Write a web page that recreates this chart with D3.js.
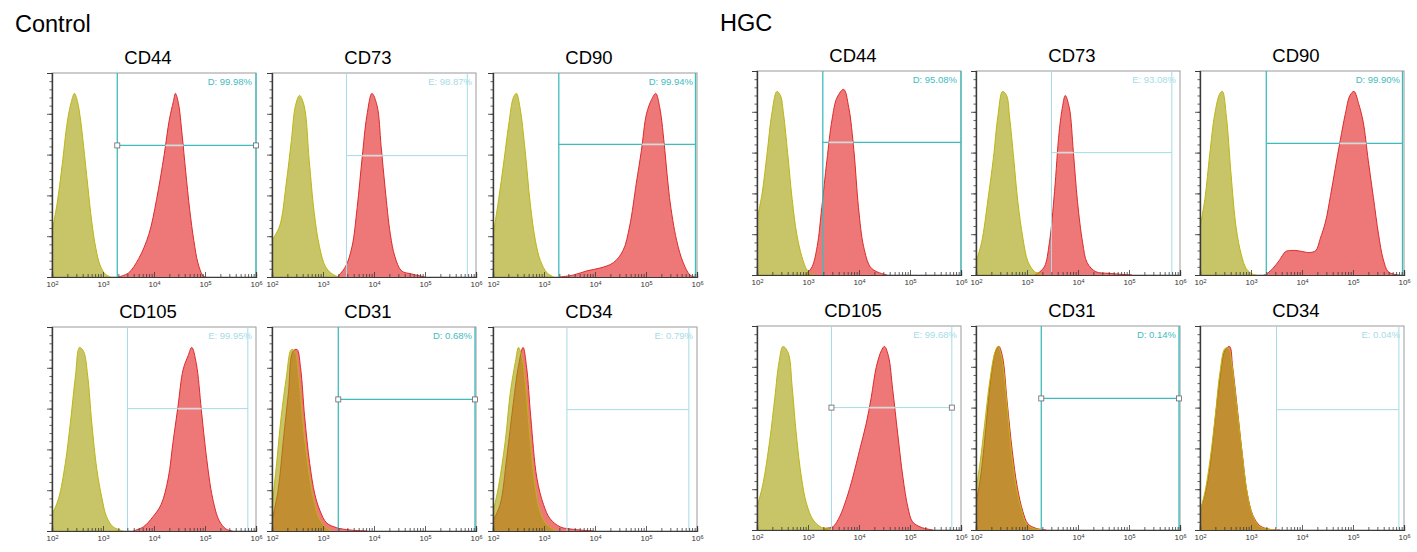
<!DOCTYPE html>
<html><head><meta charset="utf-8">
<script src="https://cdn.jsdelivr.net/npm/d3@7"></script>
<style>
body{margin:0;background:#fff;}
svg{display:block;font-family:Arial,"Liberation Sans",sans-serif;}
</style></head><body>
<svg id="chart" width="1417" height="552"></svg>
<script>
// ---------------- DATA ----------------
const groups = ["Control", "HGC"];
const markers = ["CD44", "CD73", "CD90", "CD105", "CD31", "CD34"];
const xTickExponents = ["2", "3", "4", "5", "6"];

// histogram outlines: [log10 fluorescence, % of panel height]
const ctrlCD44Iso = [[2.0,22],[2.1,36],[2.2,55],[2.3,76],[2.38,86],[2.44,90],[2.5,86],[2.56,77],[2.62,64],[2.7,45],[2.78,27],[2.86,14],[2.94,6],[3.04,1.5],[3.15,0]];
const ctrlCD44Stain = [[3.3,0],[3.5,2],[3.7,9],[3.9,21],[4.05,38],[4.2,60],[4.3,77],[4.38,86],[4.42,90],[4.48,85],[4.55,70],[4.62,52],[4.7,33],[4.78,18],[4.86,7],[4.95,1],[5.0,0]];
const ctrlCD73Iso = [[2.0,18],[2.15,25],[2.28,46],[2.38,67],[2.46,84],[2.54,89],[2.63,84],[2.73,57],[2.83,31],[2.93,15],[3.05,5],[3.18,1.5],[3.31,0]];
const ctrlCD73Stain = [[3.28,0],[3.44,5],[3.57,15],[3.67,34],[3.77,59],[3.86,79],[3.96,90],[4.06,84],[4.14,64],[4.22,43],[4.32,21],[4.41,10],[4.54,3],[4.74,1.5],[5.0,0]];
const ctrlCD90Iso = [[2.0,20],[2.11,38],[2.21,56],[2.31,75],[2.4,88],[2.46,90],[2.53,83],[2.63,62],[2.73,36],[2.83,18],[2.93,8],[3.06,2],[3.19,0]];
const ctrlCD90Stain = [[3.32,0],[3.58,1],[3.84,3],[4.1,4.4],[4.36,7],[4.55,13],[4.68,25],[4.81,46],[4.91,62],[5.01,80],[5.11,87],[5.19,90],[5.27,83],[5.37,62],[5.46,39],[5.6,18],[5.73,7],[5.86,1],[5.95,0]];
const ctrlCD105Iso = [[2.0,8],[2.13,16],[2.26,33],[2.36,53],[2.46,76],[2.54,90],[2.62,88],[2.7,76],[2.78,53],[2.88,30],[2.98,16],[3.07,7],[3.2,2],[3.4,0]];
const ctrlCD105Stain = [[3.59,0],[3.79,2],[3.98,7],[4.14,13],[4.28,26],[4.37,43],[4.47,61],[4.57,79],[4.67,86],[4.74,90],[4.83,82],[4.93,59],[5.02,38],[5.15,16],[5.28,5],[5.41,1],[5.54,0]];
const ctrlCD31Iso = [[2.0,11],[2.09,33],[2.18,56],[2.28,75],[2.38,89],[2.45,88],[2.51,79],[2.61,52],[2.71,31],[2.81,16],[2.91,7],[3.04,2],[3.17,0]];
const ctrlCD31Stain = [[2.0,5],[2.12,20],[2.22,44],[2.32,67],[2.41,88],[2.49,89],[2.56,80],[2.64,56],[2.74,33],[2.84,18],[2.94,10],[3.07,4],[3.27,1.6],[3.53,0.5],[3.86,0]];
const ctrlCD34Iso = [[2.0,9],[2.11,22],[2.24,44],[2.34,68],[2.44,83],[2.5,90],[2.57,85],[2.65,68],[2.73,44],[2.83,21],[2.93,9],[3.06,3],[3.25,0]];
const ctrlCD34Stain = [[2.0,5],[2.14,13],[2.27,36],[2.4,63],[2.5,81],[2.59,90],[2.66,80],[2.74,56],[2.86,26],[2.99,13],[3.12,6],[3.32,2],[3.58,0.8],[3.97,0]];
const hgcCD44Iso = [[2.0,27],[2.1,40],[2.2,60],[2.29,79],[2.39,90],[2.46,88],[2.52,79],[2.6,60],[2.69,37],[2.78,20],[2.88,9],[2.98,2.4],[3.05,0.8],[3.12,0]];
const hgcCD44Stain = [[2.95,0],[2.98,0.8],[3.08,4],[3.18,14],[3.27,33],[3.37,56],[3.47,76],[3.57,87],[3.7,91],[3.8,82],[3.9,61],[3.99,33],[4.09,14],[4.22,4],[4.35,1.6],[4.55,0]];
const hgcCD73Iso = [[2.0,6.5],[2.11,16],[2.24,38],[2.34,57],[2.43,78],[2.52,90],[2.6,88],[2.66,77],[2.74,57],[2.82,36],[2.92,18],[3.02,6.5],[3.15,1.6],[3.24,0.8],[3.3,0]];
const hgcCD73Stain = [[3.15,0],[3.21,0.8],[3.34,4],[3.44,16],[3.54,41],[3.63,70],[3.7,83],[3.75,88],[3.83,82],[3.91,60],[3.99,36],[4.09,16],[4.18,6],[4.35,1.6],[4.61,0.8],[5.06,0]];
const hgcCD90Iso = [[2.0,23],[2.1,38],[2.19,59],[2.29,79],[2.39,89],[2.44,90],[2.52,77],[2.61,49],[2.71,23],[2.81,10],[2.91,3],[3.04,0.3],[3.1,0]];
const hgcCD90Stain = [[3.25,0],[3.29,0.3],[3.42,3],[3.55,7],[3.68,11.5],[3.78,12],[3.88,12],[4.01,11.5],[4.14,11],[4.27,12],[4.36,18],[4.46,26],[4.56,39],[4.65,52],[4.75,66],[4.85,79],[4.94,88],[5.02,90],[5.11,84],[5.2,75],[5.3,56],[5.4,38],[5.5,20],[5.59,8],[5.69,1.6],[5.82,0.3],[5.9,0]];
const hgcCD105Iso = [[2.0,11],[2.12,23],[2.25,44],[2.35,65],[2.43,82],[2.51,90],[2.61,87],[2.69,70],[2.77,47],[2.87,26],[2.97,13],[3.1,5],[3.26,1.3],[3.39,0.8],[3.45,0]];
const hgcCD105Stain = [[3.3,0],[3.36,0.8],[3.49,1.6],[3.62,6.5],[3.75,15],[3.88,26],[4.01,39],[4.14,52],[4.24,65],[4.34,80],[4.44,88],[4.5,90],[4.58,85],[4.66,69],[4.76,47],[4.86,26],[4.96,11],[5.05,4],[5.22,1.3],[5.45,0]];
const hgcCD31Iso = [[2.0,20],[2.08,33],[2.17,52],[2.27,73],[2.37,87],[2.43,90],[2.5,85],[2.6,63],[2.69,39],[2.79,21],[2.89,10],[2.99,3],[3.12,0.8],[3.31,0]];
const hgcCD31Stain = [[2.0,13],[2.09,26],[2.19,49],[2.28,72],[2.39,88],[2.45,90],[2.52,85],[2.61,63],[2.71,39],[2.81,21],[2.92,9],[3.02,3],[3.18,0.8],[3.38,0]];
const hgcCD34Iso = [[2.0,9],[2.1,19],[2.2,35],[2.3,56],[2.39,77],[2.49,89],[2.56,89],[2.62,82],[2.72,61],[2.82,39],[2.92,19],[3.02,8],[3.15,2],[3.31,0.5],[3.51,0]];
const hgcCD34Stain = [[2.0,9.4],[2.1,17.5],[2.2,32],[2.3,55],[2.39,74],[2.49,88],[2.58,90],[2.64,80],[2.73,60],[2.83,37],[2.93,17.5],[3.04,7],[3.18,2],[3.38,0.3],[3.57,0]];

// gates (marker order as in `markers`)
const ctrlGateLabels = ["D: 99.98%", "E: 98.87%", "D: 99.94%", "E: 99.95%", "D: 0.68%", "E: 0.79%"];
const hgcGateLabels  = ["D: 95.08%", "E: 93.08%", "D: 99.90%", "E: 99.68%", "D: 0.14%", "E: 0.04%"];
const ctrlGateStart = [3.28, 3.46, 3.29, 3.48, 3.30, 3.45];
const ctrlGateEnd   = [6.0, 5.83, 5.97, 5.84, 5.98, 5.84];
const ctrlGateLevel = [64.5, 59.5, 65, 60, 64.5, 59.5];
const hgcGateStart  = [3.29, 3.48, 3.30, 3.46, 3.28, 3.50];
const hgcGateEnd    = [6.0, 5.84, 5.97, 5.82, 5.98, 5.90];
const hgcGateLevel  = [65, 60, 64.5, 60, 64.5, 59];
const ctrlGateHandles = [true, false, false, false, true, false];
const hgcGateHandles  = [false, false, false, true, true, false];

const isoSeries = {Control:[ctrlCD44Iso,ctrlCD73Iso,ctrlCD90Iso,ctrlCD105Iso,ctrlCD31Iso,ctrlCD34Iso],
                   HGC:[hgcCD44Iso,hgcCD73Iso,hgcCD90Iso,hgcCD105Iso,hgcCD31Iso,hgcCD34Iso]};
const stainSeries = {Control:[ctrlCD44Stain,ctrlCD73Stain,ctrlCD90Stain,ctrlCD105Stain,ctrlCD31Stain,ctrlCD34Stain],
                     HGC:[hgcCD44Stain,hgcCD73Stain,hgcCD90Stain,hgcCD105Stain,hgcCD31Stain,hgcCD34Stain]};
const gateInfo = {
  Control:{labels:ctrlGateLabels,start:ctrlGateStart,end:ctrlGateEnd,level:ctrlGateLevel,handles:ctrlGateHandles},
  HGC:{labels:hgcGateLabels,start:hgcGateStart,end:hgcGateEnd,level:hgcGateLevel,handles:hgcGateHandles}
};

// ---------------- LAYOUT ----------------
const svg = d3.select("#chart");
const PW = 204, PH = 204;
const layout = {
  Control:{title:[15,32], cols:[52,272,493], rows:[73,327]},
  HGC:{title:[720,31], cols:[757,976,1200], rows:[71,326]}
};
const C = {
  isoFill:"rgb(163,157,3)", isoOpacity:0.6, isoStroke:"#bdb613",
  stainFill:"#ee7878", stainStroke:"#dc2a2a",
  gateD:"#3fbcbe", gateE:"#a6dbe7", axis:"#3a3a3a", frame:"#9a9a9a"
};

const minorTicks = [];
for (let e = 2; e < 6; e++) for (let m = 2; m <= 9; m++) minorTicks.push(m * Math.pow(10, e));
const majorTicks = xTickExponents.map(e => Math.pow(10, +e));

let clipId = 0;
groups.forEach(g => {
  const L = layout[g];
  svg.append("text").attr("x", L.title[0]).attr("y", L.title[1])
    .attr("font-size", 23.5).attr("fill", "#000").text(g);

  markers.forEach((mk, i) => {
    const left = L.cols[i % 3], top = L.rows[Math.floor(i / 3)];
    const x = d3.scaleLog().domain([1e2, 1e6]).range([0, PW]);
    const y = d3.scaleLinear().domain([0, 100]).range([PH, 0]);
    const p = svg.append("g").attr("transform", `translate(${left},${top})`);

    svg.append("text").attr("x", left + PW / 2 - 6).attr("y", top - 9)
      .attr("text-anchor", "middle").attr("font-size", 18.5).attr("fill", "#000").text(mk);

    // frame
    p.append("rect").attr("x", 0).attr("y", 0).attr("width", PW).attr("height", PH)
      .attr("fill", "#fff").attr("stroke", C.frame).attr("stroke-width", 1);

    const panelClip = "pclip" + (clipId++);
    p.append("clipPath").attr("id", panelClip).append("rect").attr("x", 0).attr("y", 0).attr("width", PW).attr("height", PH);
    const plot = p.append("g").attr("clip-path", `url(#${panelClip})`);

    const curve = d3.curveCatmullRom.alpha(0.5);
    const area = d3.area().x(d => x(Math.pow(10, d[0]))).y0(PH).y1(d => y(d[1])).curve(curve);
    const line = d3.line().x(d => x(Math.pow(10, d[0]))).y(d => y(d[1])).curve(curve);

    const st = stainSeries[g][i], iso = isoSeries[g][i];
    plot.append("path").attr("d", area(st)).attr("fill", C.stainFill);
    plot.append("path").attr("d", line(st)).attr("fill", "none").attr("stroke", C.stainStroke).attr("stroke-width", 1);
    plot.append("path").attr("d", area(iso)).attr("fill", C.isoFill).attr("fill-opacity", C.isoOpacity);
    plot.append("path").attr("d", line(iso)).attr("fill", "none").attr("stroke", C.isoStroke).attr("stroke-width", 1);

    // gate
    const G = gateInfo[g];
    const lab = G.labels[i];
    const isD = lab[0] === "D";
    const gc = isD ? C.gateD : C.gateE;
    const gx0 = x(Math.pow(10, G.start[i])), gx1 = x(Math.pow(10, G.end[i]));
    const gy = y(G.level[i]);
    const sw = isD ? 1.3 : 1;
    p.append("line").attr("x1", gx0).attr("x2", gx0).attr("y1", 0).attr("y2", PH).attr("stroke", gc).attr("stroke-width", sw);
    p.append("line").attr("x1", gx1).attr("x2", gx1).attr("y1", 0).attr("y2", PH).attr("stroke", gc).attr("stroke-width", sw);
    p.append("line").attr("x1", gx0).attr("x2", gx1).attr("y1", gy).attr("y2", gy).attr("stroke", gc).attr("stroke-width", sw);
    // gate line appears light where it crosses the stained histogram
    const cid = "clip" + (clipId++);
    p.append("clipPath").attr("id", cid).append("path").attr("d", area(st));
    p.append("line").attr("clip-path", `url(#${cid})`).attr("x1", gx0).attr("x2", gx1).attr("y1", gy).attr("y2", gy)
      .attr("stroke", "#dcd6d6").attr("stroke-width", 1.6);
    if (G.handles[i]) {
      [gx0, gx1].forEach(hx => p.append("rect").attr("x", hx - 2.5).attr("y", gy - 2.5).attr("width", 5).attr("height", 5)
        .attr("fill", "#fff").attr("stroke", "#666").attr("stroke-width", 0.8));
    }
    p.append("text").attr("x", PW - 4).attr("y", 12).attr("text-anchor", "end")
      .attr("font-size", 9.5).attr("fill", gc).text(lab);

    // axes
    const xMinor = d3.axisBottom(x).tickValues(minorTicks).tickSize(-3).tickFormat("");
    const xMajor = d3.axisBottom(x).tickValues(majorTicks).tickSize(-5).tickPadding(4.5).tickFormat(() => "10");
    const gxm = p.append("g").attr("transform", `translate(0,${PH})`).call(xMinor);
    const gxM = p.append("g").attr("transform", `translate(0,${PH})`).call(xMajor);
    gxM.selectAll(".tick text").attr("font-size", 8).attr("fill", "#333").attr("font-family", "Arial, 'Liberation Sans', sans-serif")
      .each(function(d, k) {
        d3.select(this).append("tspan").attr("dy", "-0.35em").attr("font-size", 5.5).text(xTickExponents[k]);
      });
    const yMinor = d3.axisLeft(y).tickValues(d3.range(0, 101, 4)).tickSize(2.5).tickFormat("");
    const yMajor = d3.axisLeft(y).tickValues(d3.range(0, 101, 20)).tickSize(5).tickFormat("");
    const gym = p.append("g").call(yMinor);
    const gyM = p.append("g").call(yMajor);
    [gxm, gxM, gym, gyM].forEach(a => {
      a.selectAll("path.domain").attr("stroke", C.axis).attr("stroke-width", 1.2);
      a.selectAll(".tick line").attr("stroke", C.axis).attr("stroke-width", 0.8);
    });
  });
});
</script>
</body></html>
